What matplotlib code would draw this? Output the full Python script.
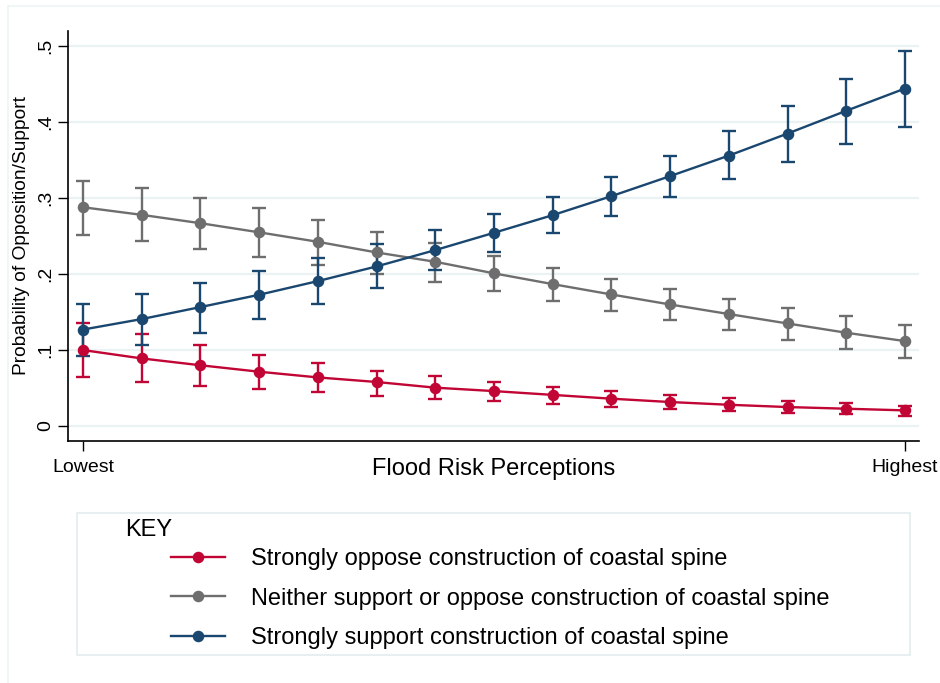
import matplotlib
matplotlib.use("Agg")
import matplotlib.pyplot as plt
from matplotlib.lines import Line2D
from matplotlib.patches import Rectangle
import numpy as np

plt.rcParams["font.family"] = ["Liberation Sans", "DejaVu Sans"]

# Predicted probabilities across 15 levels of flood risk perception
levels = list(range(1, 16))

oppose = [0.100, 0.089, 0.080, 0.0715, 0.064, 0.058, 0.0505, 0.046,
          0.041, 0.036, 0.0316, 0.028, 0.025, 0.0228, 0.0206]
oppose_lo = [0.064, 0.058, 0.053, 0.0487, 0.0443, 0.040, 0.036, 0.033,
             0.029, 0.0254, 0.0228, 0.0193, 0.0171, 0.0154, 0.0135]
oppose_hi = [0.136, 0.121, 0.107, 0.094, 0.083, 0.073, 0.066, 0.0575,
             0.051, 0.0456, 0.0408, 0.0368, 0.0329, 0.0298, 0.0265]

neither = [0.288, 0.278, 0.267, 0.255, 0.2425, 0.2285, 0.2162, 0.201,
           0.1868, 0.1732, 0.160, 0.1474, 0.135, 0.1228, 0.1118]
neither_lo = [0.252, 0.2434, 0.2329, 0.2228, 0.2118, 0.2005, 0.190, 0.1776,
              0.1649, 0.1518, 0.139, 0.1263, 0.1132, 0.1013, 0.0899]
neither_hi = [0.322, 0.3127, 0.2996, 0.2868, 0.271, 0.256, 0.2415, 0.2241,
              0.2079, 0.1934, 0.1798, 0.167, 0.1553, 0.1443, 0.1329]

support = [0.127, 0.1408, 0.1566, 0.1728, 0.1908, 0.2101, 0.2316, 0.2544,
           0.2776, 0.3026, 0.329, 0.356, 0.385, 0.415, 0.4443]
support_lo = [0.092, 0.1066, 0.1228, 0.1408, 0.1601, 0.182, 0.205, 0.2294,
              0.254, 0.277, 0.302, 0.3254, 0.348, 0.3706, 0.3934]
support_hi = [0.160, 0.1737, 0.1886, 0.2044, 0.2211, 0.2395, 0.2575, 0.2785,
              0.301, 0.328, 0.356, 0.388, 0.421, 0.4566, 0.4943]

labels = [
    "Strongly oppose construction of coastal spine",
    "Neither support or oppose construction of coastal spine",
    "Strongly support construction of coastal spine",
]
colors = ["#c10534", "#6e6e6e", "#1a476f"]

yticks = [0, 0.1, 0.2, 0.3, 0.4, 0.5]
ytick_labels = ["0", ".1", ".2", ".3", ".4", ".5"]
xtick_labels = ["Lowest", "Highest"]

fig = plt.figure(figsize=(9.4, 6.83), dpi=100)
ax = fig.add_axes([68 / 940, 1 - 440.7 / 683, (919 - 68) / 940, (440.7 - 31) / 683])

series = [
    (oppose, oppose_lo, oppose_hi),
    (neither, neither_lo, neither_hi),
    (support, support_lo, support_hi),
]
handles = []
for (mid, lo, hi), col, lab in zip(series, colors, labels):
    mid = np.array(mid)
    err = [mid - np.array(lo), np.array(hi) - mid]
    ax.errorbar(levels, mid, yerr=err, fmt="none", ecolor=col,
                elinewidth=1.7, capsize=4.7, capthick=1.7, zorder=2)
    ax.plot(levels, mid, color=col, lw=1.7, marker="o", markersize=7.3, zorder=3)
    handles.append(Line2D([], [], color=col, lw=1.7, marker="o", markersize=7.3))

ax.set_xlim(1 - 15 / 58.7, 15 + 14 / 58.7)
ax.set_ylim(-0.0193, 0.52)

ax.set_yticks(yticks)
ax.set_yticklabels(ytick_labels, rotation=90, va="center")
ax.set_xticks([levels[0], levels[-1]])
ax.set_xticklabels(xtick_labels)
ax.tick_params(axis="both", length=7, width=1, labelsize=14, color="black")
ax.tick_params(axis="x", pad=6)
ax.tick_params(axis="y", pad=3)

ax.grid(axis="y", color="#eaf2f3", lw=1.6, zorder=0)
ax.set_axisbelow(True)
for side in ["top", "right"]:
    ax.spines[side].set_visible(False)
for side in ["left", "bottom"]:
    ax.spines[side].set_linewidth(1.2)

ax.set_ylabel("Probability of Opposition/Support", fontsize=13.8, labelpad=5)
ax.set_xlabel("Flood Risk Perceptions", fontsize=17, labelpad=-13)

# faint outer frame (graph region)
fig.add_artist(Line2D([8 / 940, 8 / 940], [0, 1 - 6 / 683], transform=fig.transFigure,
                      color="#eef3f5", lw=1.2))
fig.add_artist(Line2D([8 / 940, 1], [1 - 6 / 683, 1 - 6 / 683], transform=fig.transFigure,
                      color="#eef3f5", lw=1.2))

# legend box
fig.add_artist(Rectangle((77 / 940, 1 - 655 / 683), (910 - 77) / 940, (655 - 513) / 683,
                         transform=fig.transFigure, fill=False, edgecolor="#e3ecef", lw=1.2))
fig.text(125 / 940, 1 - 530 / 683, "KEY", fontsize=17, va="center", ha="left")
fig.legend(handles, labels, loc="center left", bbox_to_anchor=(171 / 940, 1 - 598.5 / 683),
           frameon=False, fontsize=17, handlelength=2.3, handletextpad=1.1,
           labelspacing=0.75, borderpad=0, borderaxespad=0)

fig.savefig("out.png", dpi=100)
